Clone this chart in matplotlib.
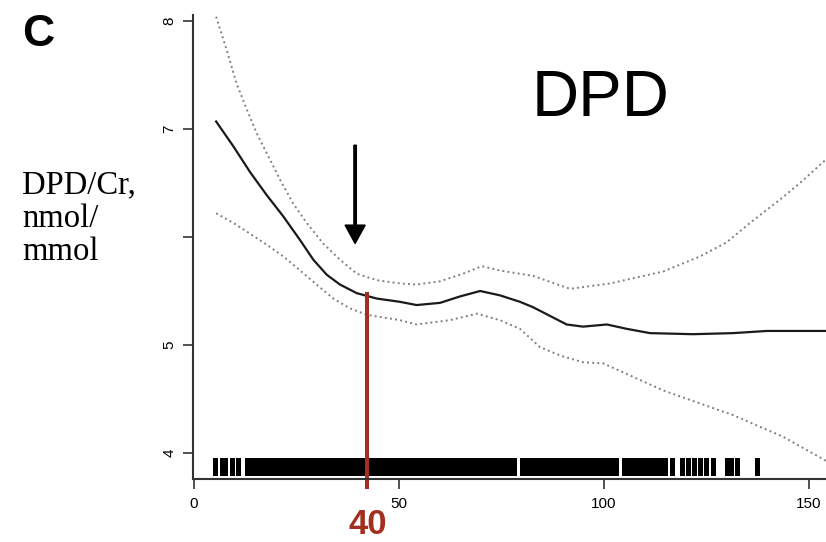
import numpy as np
import matplotlib
matplotlib.use("Agg")
import matplotlib.pyplot as plt

# fitted curve (age vs DPD/Cr) and its confidence band
fit_age = [5.4, 9.6, 13.7, 17.7, 21.8, 25.9, 29.1, 32.4, 35.6, 39.7, 44.6, 50.2, 54.3,
           60.0, 64.9, 69.8, 74.6, 79.5, 82.7, 86.8, 90.9, 94.9, 100.7, 105.5, 111.2,
           121.7, 131.5, 139.7, 154.5]
fit_val = [7.07, 6.84, 6.60, 6.39, 6.19, 5.97, 5.79, 5.65, 5.56, 5.48, 5.43, 5.40, 5.37,
           5.39, 5.45, 5.50, 5.46, 5.40, 5.35, 5.27, 5.19, 5.17, 5.19, 5.15, 5.11,
           5.10, 5.11, 5.13, 5.13]

upper_age = [5.4, 8.0, 10.4, 12.9, 15.3, 17.7, 21.0, 24.2, 27.5, 31.5, 35.6, 39.7, 44.6,
             50.2, 54.3, 60.0, 65.6, 70.2, 74.6, 82.7, 91.7, 101.5, 109.6, 114.4, 123.4,
             129.9, 135.6, 143.7, 147.8, 154.5]
upper_val = [8.04, 7.73, 7.42, 7.18, 6.96, 6.78, 6.53, 6.31, 6.13, 5.94, 5.79, 5.66, 5.60,
             5.57, 5.56, 5.59, 5.66, 5.73, 5.69, 5.64, 5.52, 5.57, 5.64, 5.68, 5.82,
             5.95, 6.13, 6.37, 6.50, 6.73]

lower_age = [5.4, 9.6, 13.7, 17.7, 21.8, 25.9, 29.9, 34.0, 38.0, 42.1, 47.0, 50.2, 54.3,
             62.4, 69.0, 74.6, 79.5, 84.4, 89.5, 94.9, 99.8, 114.4, 131.5, 143.7, 154.5]
lower_val = [6.22, 6.13, 6.03, 5.93, 5.82, 5.69, 5.56, 5.43, 5.34, 5.28, 5.25, 5.23, 5.19,
             5.23, 5.29, 5.23, 5.15, 4.98, 4.90, 4.84, 4.83, 4.58, 4.35, 4.15, 3.92]

# observed ages (rug)
rug_ages = [5.1, 6.8, 7.6, 9.2, 10.8,
            13, 14, 15, 16, 17, 18, 19, 20, 21, 22, 23, 24, 25, 26, 27, 28, 29, 30,
            31, 32, 33, 34, 35, 36, 37, 38, 39, 40, 41, 42, 43, 44, 45, 46, 47, 48,
            49, 50, 51, 52, 53, 54, 55, 56, 57, 58, 59, 60, 61, 62, 63, 64, 65, 66,
            67, 68, 69, 70, 71, 72, 73, 74, 75, 76, 77, 78,
            80, 81, 82, 83, 84, 85, 86, 87, 88, 89, 90, 91, 92, 93, 94, 95, 96, 97,
            98, 99, 100, 101, 102, 103,
            105, 106, 107, 108, 109, 110, 111, 112, 113, 114, 115, 116.5, 119, 120.5,
            122, 123.5, 125, 126.7, 130, 131, 132.4, 137.2]

x_ticks = [0, 50, 100, 150]
y_ticks = [4, 5, 6, 7, 8]
y_tick_labels = ['4', '5', '', '7', '8']

cutoff_age = 42.1      # red marker line
arrow_age = 39.3
arrow_from, arrow_to = 6.85, 5.94

fig = plt.figure(figsize=(8.26, 5.42), dpi=100)
ax = fig.add_axes([193/826, 1 - 479/542, 1 - 193/826, (479 - 15)/542])
ax.set_xlim(-0.24, 154.15)
ax.set_ylim(3.759, 8.056)

ax.plot(upper_age, upper_val, ls=':', lw=1.4, color='#808080')
ax.plot(lower_age, lower_val, ls=':', lw=1.4, color='#808080')
ax.plot(fit_age, fit_val, color='#1a1a1a', lw=1.6)

ax.vlines(rug_ages, 3.80, 3.955, color='black', lw=3.6, antialiased=False)

ax.arrow(arrow_age, arrow_from, 0, arrow_to - arrow_from, width=0.6, head_width=4.9,
         head_length=0.17, length_includes_head=True, fc='black', ec='black')

ax.plot([cutoff_age, cutoff_age], [5.49, 3.67], color='#a3301f', lw=2.9,
        clip_on=False, solid_capstyle='butt')

for s in ['top', 'right']:
    ax.spines[s].set_visible(False)
for s in ['left', 'bottom']:
    ax.spines[s].set_linewidth(1.5)
    ax.spines[s].set_color('#333333')

ax.set_xticks(x_ticks)
ax.set_xticklabels([str(t) for t in x_ticks], fontsize=11, family='Liberation Sans')
ax.set_yticks(y_ticks)
ax.set_yticklabels(y_tick_labels, fontsize=11, family='Liberation Sans',
                   rotation=90, va='center')
ax.tick_params(axis='x', length=7, width=1.2, color='#333333', pad=6)
ax.tick_params(axis='y', length=7, width=1.2, color='#333333', pad=5)

fig.text(22/826, 1 - 34/542, 'C', fontsize=32, fontweight='bold',
         family='Liberation Sans', va='center', ha='left')
fig.text(601/826, 1 - 99/542, 'DPD', fontsize=47, family='Liberation Sans',
         va='center', ha='center')
fig.text(22/826, 1 - 170/542, 'DPD/Cr,\nnmol/\nmmol', fontsize=23.5,
         family='Liberation Serif', va='top', ha='left', linespacing=1.12)
fig.text(368/826, 1 - 524/542, '40', fontsize=25, fontweight='bold',
         family='Liberation Sans', color='#a3301f', va='center', ha='center')

fig.savefig('out.png', dpi=100)
